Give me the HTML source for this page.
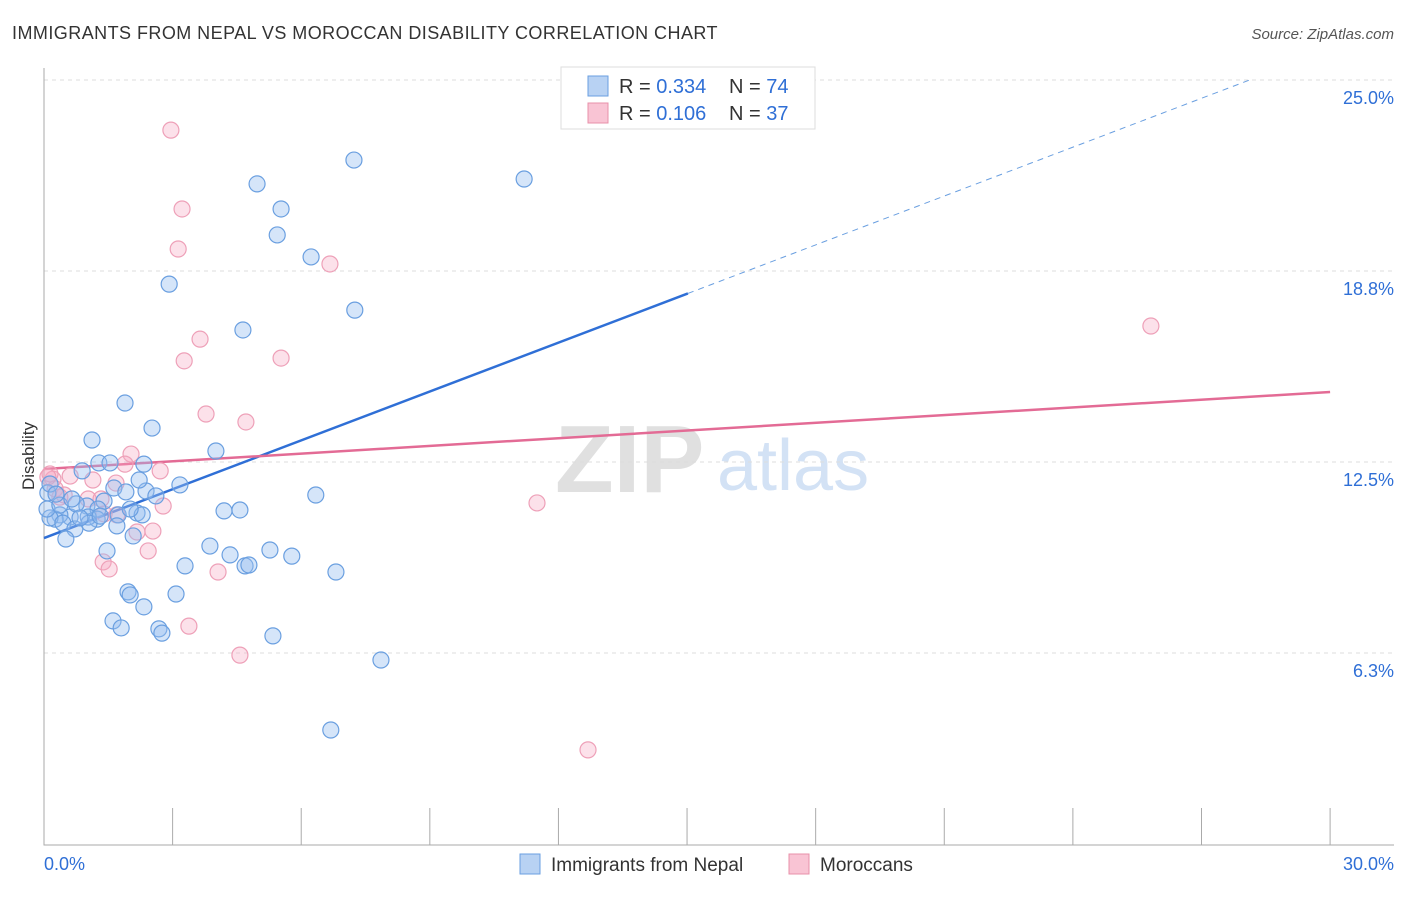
<!DOCTYPE html>
<html><head><meta charset="utf-8"><style>
body{margin:0;background:#fff;font-family:"Liberation Sans",sans-serif;}
svg text{font-family:"Liberation Sans",sans-serif;}
</style></head><body>
<svg width="1406" height="892" id="chart">
<text x="12" y="39" font-size="18" letter-spacing="0.45" fill="#333">IMMIGRANTS FROM NEPAL VS MOROCCAN DISABILITY CORRELATION CHART</text>
<text x="1394" y="39" font-size="15" fill="#555" text-anchor="end" font-style="italic">Source: ZipAtlas.com</text>
<text x="555" y="492" font-size="96" fill="#e0e0e0" font-family="Liberation Serif" font-weight="bold">ZIP</text>
<text x="717" y="490" font-size="72" fill="#d3e2f5">atlas</text>
<text x="34" y="456" font-size="17" fill="#333" text-anchor="middle" transform="rotate(-90 34 456)">Disability</text>
<g id="grid"></g><g id="axes"></g><g id="lines"></g><g id="pts"></g>
<g>
<rect x="561" y="67" width="254" height="62" fill="#fff" stroke="#ddd"/>
<rect x="588" y="76" width="20" height="20" fill="#b8d2f3" stroke="#6a9fe0"/>
<rect x="588" y="103" width="20" height="20" fill="#f9c4d4" stroke="#e890aa"/>
<text x="619" y="93" font-size="20" fill="#333">R = <tspan fill="#2f6fd6">0.334</tspan><tspan x="729">N = </tspan><tspan fill="#2f6fd6">74</tspan></text>
<text x="619" y="120" font-size="20" fill="#333">R = <tspan fill="#2f6fd6">0.106</tspan><tspan x="729">N = </tspan><tspan fill="#2f6fd6">37</tspan></text>
</g>
<g>
<rect x="520" y="854" width="20" height="20" fill="#b8d2f3" stroke="#6a9fe0"/>
<text x="551" y="871" font-size="19" fill="#333">Immigrants from Nepal</text>
<rect x="789" y="854" width="20" height="20" fill="#f9c4d4" stroke="#e890aa"/>
<text x="820" y="871" font-size="19" fill="#333">Moroccans</text>
</g>
</svg>
<script>
const blueX=[7.23,11.20,4.97,5.53,5.44,6.23,2.92,7.25,4.64,1.89,2.52,1.12,4.01,1.28,1.54,2.33,3.17,1.63,1.91,2.38,2.61,2.22,6.34,1.40,1.00,1.26,4.20,4.57,2.17,2.29,1.73,1.24,1.03,0.61,0.37,0.26,0.14,0.07,0.09,0.14,0.44,0.72,1.05,1.70,2.08,0.51,1.47,3.87,4.34,5.27,5.78,4.69,4.78,3.29,6.81,1.96,2.01,2.33,3.08,1.61,1.80,2.68,2.75,5.34,7.86,6.69,0.89,0.37,0.75,0.84,1.31,0.28,0.65,2.01];
const blueY=[22.38,21.76,21.60,20.78,19.93,19.21,18.32,17.47,16.82,14.43,13.61,13.22,12.86,12.47,12.47,12.43,11.75,11.65,11.52,11.55,11.39,11.91,11.42,11.22,11.06,10.96,10.90,10.93,10.83,10.77,10.77,10.63,10.70,10.70,10.77,10.63,10.67,10.96,11.49,11.78,10.50,10.31,10.50,10.41,10.08,9.98,9.59,9.75,9.46,9.62,9.42,9.10,9.13,9.10,8.90,8.25,8.15,7.76,8.18,7.30,7.07,7.04,6.90,6.81,6.02,3.73,12.21,11.09,11.13,10.67,10.73,11.45,11.29,10.96];
const pinkX=[2.96,3.22,3.13,6.67,25.82,3.64,3.27,5.53,3.78,4.71,2.03,1.89,2.71,0.61,1.14,1.68,0.21,0.14,0.26,0.47,1.03,1.33,2.78,1.70,2.54,2.17,2.43,1.38,1.52,4.06,11.50,3.38,4.57,12.69,0.09,0.37,1.40];
const pinkY=[23.36,20.78,19.47,18.98,16.95,16.52,15.81,15.90,14.07,13.81,12.76,12.43,12.21,12.04,11.91,11.81,11.94,12.11,11.62,11.42,11.29,11.29,11.06,10.77,10.24,10.21,9.59,9.23,9.00,8.90,11.16,7.13,6.18,3.08,12.01,11.35,10.80];
const blueFit=[10.01,0.533]; const blueSolidEnd=15.02; const blueDashEnd=28.13;
const pinkFit=[12.27,0.084];
const yTicks=[25,18.75,12.5,6.25]; const yTickLabels=["25.0%","18.8%","12.5%","6.3%"];
const xTicks=[3,6,9,12,15,18,21,24,27,30];
const NS="http://www.w3.org/2000/svg";
const X=v=>44+v*42.87, Y=v=>844-v*30.56;
function mk(p,tag,at){const e=document.createElementNS(NS,tag);for(const k in at)e.setAttribute(k,at[k]);document.getElementById(p).appendChild(e);return e;}
yTicks.forEach((t,i)=>{
 const g=mk('grid','line',{x1:44,x2:1394,y1:Y(t),y2:Y(t),stroke:'#ddd','stroke-dasharray':'4,4'});
 
 
 const l=mk('grid','text',{x:1394,y:Y(t)+24,'font-size':18,fill:'#2f6fd6','text-anchor':'end'});l.textContent=yTickLabels[i];
 
 
});
const ax=mk('axes','path',{d:'M44 68V845H1394',stroke:'#aaa',fill:'none'});


xTicks.forEach(t=>{const k=mk('axes','line',{x1:X(t),x2:X(t),y1:808,y2:845,stroke:'#aaa'});
 
 });
const x0=mk('axes','text',{x:44,y:870,'font-size':18,fill:'#2f6fd6'});x0.textContent='0.0%';


const x1=mk('axes','text',{x:1394,y:870,'font-size':18,fill:'#2f6fd6','text-anchor':'end'});x1.textContent='30.0%';


const fb=v=>blueFit[0]+blueFit[1]*v, fp=v=>pinkFit[0]+pinkFit[1]*v;
const bl=mk('lines','line',{x1:X(0),y1:Y(fb(0)),x2:X(blueSolidEnd),y2:Y(fb(blueSolidEnd)),stroke:'#2f6fd6','stroke-width':2.5});


const bd=mk('lines','line',{x1:X(blueSolidEnd),y1:Y(fb(blueSolidEnd)),x2:X(blueDashEnd),y2:Y(fb(blueDashEnd)),stroke:'#6a9fe0','stroke-width':1,'stroke-dasharray':'6,5'});


pinkX.forEach((v,i)=>{const c=mk('pts','circle',{cx:X(v),cy:Y(pinkY[i]),r:8,fill:'rgba(245,170,195,0.35)',stroke:'#eea0b8','stroke-width':1.2});
 
 });
blueX.forEach((v,i)=>{const c=mk('pts','circle',{cx:X(v),cy:Y(blueY[i]),r:8,fill:'rgba(150,190,240,0.4)',stroke:'#6a9fe0','stroke-width':1.2});
 
 });
const pl=mk('lines','line',{x1:X(0),y1:Y(fp(0)),x2:X(30),y2:Y(fp(30)),stroke:'#e36b95','stroke-width':2.5});


</script>
</body></html>
